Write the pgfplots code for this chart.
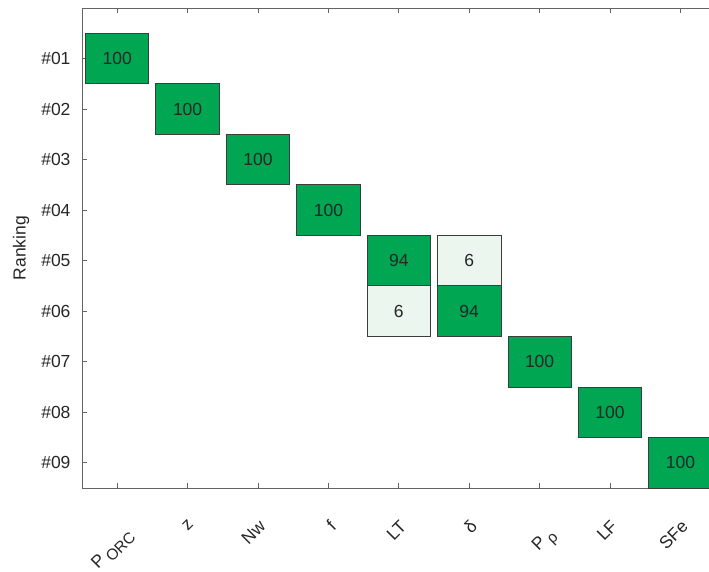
\documentclass[border=0pt]{standalone}
\usepackage{fontspec}
\setmainfont{Liberation Sans}
\usepackage{pgfplots}
\pgfplotsset{compat=1.18}
\usepackage{pgfplotstable}
\definecolor{axgray}{RGB}{100,100,100}
\definecolor{cellgreen}{RGB}{0,166,81}
\definecolor{celllight}{RGB}{234,246,238}
\definecolor{celledge}{RGB}{60,60,60}
\newcommand\psub[1]{P\,\raisebox{-0.3em}{\fontsize{15.5bp}{16bp}\selectfont #1}\rule{0pt}{22bp}}
\pgfdeclareplotmark{cell}{%
  \pgfpathrectangle{\pgfpoint{-31.7bp}{-25.26bp}}{\pgfpoint{63.4bp}{50.53bp}}%
  \pgfusepathqfillstroke}
\pgfplotstableread{
col rank val
1 1 100
2 2 100
3 3 100
4 4 100
5 5 94
6 6 94
7 7 100
8 8 100
9 9 100
}\darkcells
\pgfplotstableread{
col rank val
5 6 6
6 5 6
}\lightcells
\begin{document}
\begin{tikzpicture}
\begin{axis}[name=ax, scale only axis, width=633.6bp, height=480bp,
  xmin=0.5, xmax=9.5, ymin=0, ymax=9.5, y dir=reverse,
  axis line style={axgray, line width=0.8bp},
  tick style={axgray, line width=0.8bp},
  major tick length=5bp,
  xtick={1,...,9},
  xticklabels={\psub{ORC}, z, Nw, f, LT, δ, \psub{ρ}, LF, SFe},
  ytick={1,...,9},
  yticklabels={\#01,\#02,\#03,\#04,\#05,\#06,\#07,\#08,\#09},
  ticklabel style={font=\fontsize{17.5bp}{20bp}\selectfont, text=black!85},
  xticklabel style={rotate=45, anchor=north east},
  xticklabel shift=26bp,
  yticklabel style={xshift=-8bp},
  ylabel={Ranking},
  ylabel style={at={(axis description cs:0,0.5)}, anchor=center, yshift=61bp, font=\fontsize{17.5bp}{20bp}\selectfont, text=black!85},
  clip=false,
  nodes near coords={\pgfmathprintnumber[assume math mode=true]{\pgfplotspointmeta}},
  every node near coord/.append style={anchor=center, font=\fontsize{17.5bp}{20bp}\selectfont, text=black!85},
]
\addplot[only marks, mark=cell, point meta=explicit,
  mark options={draw=celledge, fill=cellgreen, line width=0.8bp},
] table[x=col, y=rank, meta=val]{\darkcells};
\addplot[only marks, mark=cell, point meta=explicit,
  mark options={draw=celledge, fill=celllight, line width=0.8bp},
] table[x=col, y=rank, meta=val]{\lightcells};
\end{axis}
\pgfresetboundingbox
\path[use as bounding box] ([shift={(-82bp,8bp)}]ax.north west) rectangle ([shift={(627bp,-84bp)}]ax.south west);
\end{tikzpicture}
\end{document}
